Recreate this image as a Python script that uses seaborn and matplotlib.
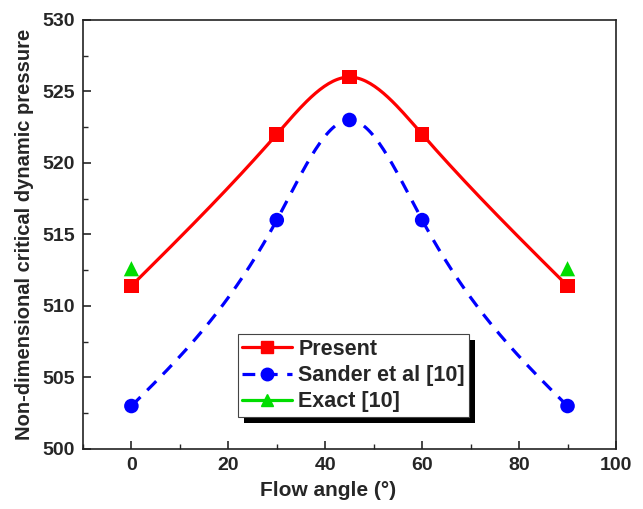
import numpy as np
import pandas as pd
import matplotlib
matplotlib.use("Agg")
import matplotlib.pyplot as plt
from matplotlib.lines import Line2D
from matplotlib.patches import Rectangle
import seaborn as sns

sns.set_style("ticks")
plt.rcParams['font.family'] = ['Liberation Sans', 'DejaVu Sans']
plt.rcParams['font.weight'] = 'bold'

angles = [0, 30, 45, 60, 90]
present = [511.4, 522.0, 526.0, 522.0, 511.4]
sander = [503.0, 516.0, 523.0, 516.0, 503.0]
exact_angles = [0, 90]
exact = [512.6, 512.6]


def smooth(x, y, n=200):
    # natural cubic spline through the points, only for drawing the curve
    x = np.asarray(x, float)
    y = np.asarray(y, float)
    k = len(x)
    h = np.diff(x)
    A = np.zeros((k, k))
    b = np.zeros(k)
    A[0, 0] = A[-1, -1] = 1
    for i in range(1, k - 1):
        A[i, i - 1] = h[i - 1]
        A[i, i] = 2 * (h[i - 1] + h[i])
        A[i, i + 1] = h[i]
        b[i] = 6 * ((y[i + 1] - y[i]) / h[i] - (y[i] - y[i - 1]) / h[i - 1])
    M = np.linalg.solve(A, b)
    xs = np.linspace(x[0], x[-1], n)
    idx = np.clip(np.searchsorted(x, xs) - 1, 0, k - 2)
    x0, x1 = x[idx], x[idx + 1]
    hh = x1 - x0
    ys = (M[idx] * (x1 - xs) ** 3 / (6 * hh) + M[idx + 1] * (xs - x0) ** 3 / (6 * hh)
          + (y[idx] / hh - M[idx] * hh / 6) * (x1 - xs)
          + (y[idx + 1] / hh - M[idx + 1] * hh / 6) * (xs - x0))
    return xs, ys


fig = plt.figure(figsize=(6.43, 5.09), dpi=100)
ax = fig.add_axes([0.129, 0.118, 0.829, 0.843])

xs, ys = smooth(angles, present)
sns.lineplot(x=xs, y=ys, ax=ax, color='#ff0000', lw=2.3, sort=False)
xs, ys = smooth(angles, sander)
sns.lineplot(x=xs, y=ys, ax=ax, color='#0000ff', lw=2.3, sort=False, dashes=False)
ax.lines[-1].set_dashes([4.0, 3.0])

sns.scatterplot(x=angles, y=present, ax=ax, marker='s', s=110, color='#ff0000', edgecolor='none', zorder=3)
sns.scatterplot(x=angles, y=sander, ax=ax, marker='o', s=110, color='#0000ff', edgecolor='none', zorder=3)
sns.scatterplot(x=exact_angles, y=exact, ax=ax, marker='^', s=120, color='#00dd00', edgecolor='none', zorder=3)

ax.set_xlim(-10, 100)
ax.set_ylim(500, 530)
ax.set_xticks(range(0, 101, 20))
ax.set_xticks(range(-10, 100, 20), minor=True)
ax.set_yticks(range(500, 531, 5))
ax.set_yticks(np.arange(502.5, 530, 5), minor=True)
ax.tick_params(which='both', direction='in', top=False, right=False)
ax.tick_params(which='major', length=6, width=1.2, labelsize=14, pad=6)
ax.tick_params(which='minor', length=3.5, width=1.0)
for lab in ax.get_xticklabels() + ax.get_yticklabels():
    lab.set_fontweight('bold')
for sp in ax.spines.values():
    sp.set_linewidth(1.2)
    sp.set_color('#222222')

ax.set_xlabel('Flow angle (°)', fontsize=15, fontweight='bold', labelpad=6)
ax.xaxis.set_label_coords(0.46, -0.075)
ax.set_ylabel('Non-dimensional critical dynamic pressure', fontsize=14.5, fontweight='bold', labelpad=6)

handles = [
    Line2D([], [], color='#ff0000', lw=2.3, marker='s', ms=9, label='Present'),
    Line2D([], [], color='#0000ff', lw=2.3, marker='o', ms=9, dashes=[4.0, 3.0], label='Sander et al [10]'),
    Line2D([], [], color='#00dd00', lw=2.3, marker='^', ms=9, label='Exact [10]'),
]
leg = ax.legend(handles=handles, loc='lower left', bbox_to_anchor=(0.291, 0.075),
                fancybox=False, framealpha=1, edgecolor='#444444',
                prop={'weight': 'bold', 'size': 15.5}, handlelength=2.3,
                handletextpad=0.3, borderpad=0.2, labelspacing=0.25, borderaxespad=0)
leg.get_frame().set_linewidth(0.8)
leg.set_zorder(5)

fig.canvas.draw()
bb = leg.get_window_extent()
shadow = Rectangle((bb.x0 + 6, bb.y0 - 6), bb.width, bb.height, transform=None,
                   facecolor='black', edgecolor='none', zorder=4)
ax.add_artist(shadow)

fig.savefig('out.png', dpi=100)
